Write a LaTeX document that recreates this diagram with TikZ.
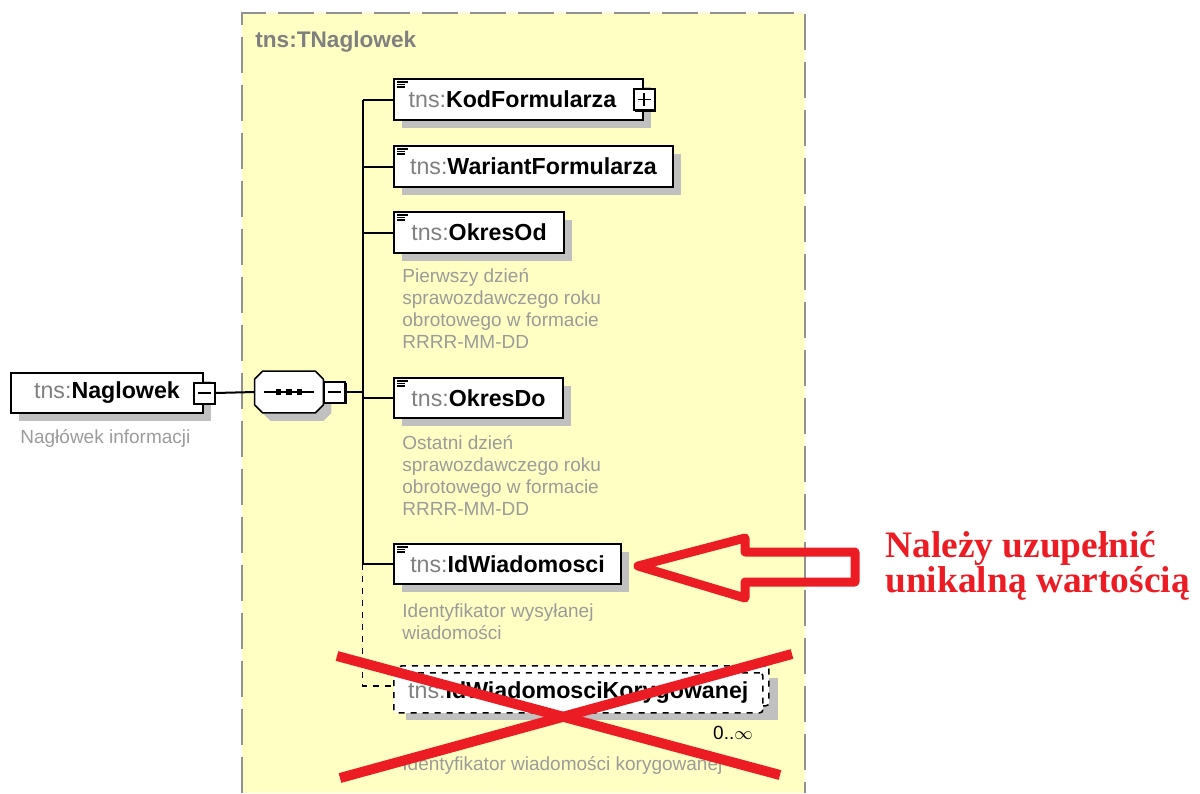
\documentclass[tikz,border=0pt]{standalone}
\usepackage{fontspec}
\setmainfont{Liberation Sans}
\newfontfamily\notefont{Liberation Serif}
\usepackage{xcolor}
\usetikzlibrary{positioning,shadows}

\definecolor{typeyellow}{RGB}{255,255,196}
\definecolor{typeborder}{RGB}{145,145,145}
\definecolor{shadowgray}{RGB}{192,192,192}
\definecolor{prefixgray}{RGB}{128,128,128}
\definecolor{descgray}{RGB}{155,155,155}
\definecolor{notered}{RGB}{236,28,36}

\newcommand{\tnsname}[1]{\textcolor{prefixgray}{tns:}\textbf{#1}}

\begin{document}
\begin{tikzpicture}[x=0.5pt,y=-0.5pt,
    elem/.style={draw=black, line width=1pt, fill=white, anchor=north west,
        minimum height=20pt, inner sep=0pt, font=\fontsize{11.6}{13}\selectfont,
        drop shadow={fill=shadowgray, opacity=1, shadow xshift=4pt, shadow yshift=-4pt}},
    multibox/.style={draw=black, line width=0.8pt, dashed, rounded corners=1.5pt,
        fill=white, anchor=north west, minimum height=18pt, inner sep=0pt,
        font=\fontsize{11.6}{13}\selectfont},
    pmbox/.style={draw=black, line width=1pt, fill=white, minimum size=10.5pt, inner sep=0pt,
        drop shadow={fill=black, opacity=1, shadow xshift=0.8pt, shadow yshift=-0.8pt}},
    minusbox/.style={pmbox, path picture={
        \draw[line width=0.8pt] ([xshift=2pt]path picture bounding box.west)
            -- ([xshift=-2pt]path picture bounding box.east);}},
    plusbox/.style={pmbox, path picture={
        \draw[line width=0.8pt] ([xshift=2pt]path picture bounding box.west)
            -- ([xshift=-2pt]path picture bounding box.east);
        \draw[line width=0.8pt] ([yshift=-2pt]path picture bounding box.north)
            -- ([yshift=2pt]path picture bounding box.south);}},
    seqbox/.style={minimum width=34pt, minimum height=20.5pt, inner sep=0pt},
    desc/.style={anchor=north west, align=left, inner sep=0pt, text=descgray,
        font=\fontsize{9.5}{11}\selectfont},
    link/.style={line width=1pt},
    cross/.style={notered, line width=5pt}
    ]
    \useasboundingbox (0,0) rectangle (1200,793);

    % complex type
    \fill[typeyellow] (242,13) rectangle (805,793);
    \draw[typeborder, line width=1pt, dash pattern=on 18pt off 6pt]
        (242,793) -- (242,13) -- (805,13) -- (805,793);
    \node[anchor=base west, inner sep=0pt, text=prefixgray,
        font=\fontsize{11.3}{13}\selectfont\bfseries] (ttl) at (255,47) {tns:TNaglowek};

    % root element
    \node[elem, minimum width=96pt] (nag) at (10,372) {\tnsname{Naglowek}};
    \node[minusbox] (nagmin) at (nag.east) {};
    \node[desc] (naginfo) at (20,429) {Nagłówek informacji};

    % sequence (octagon)
    \node[seqbox] (seq) at (289,392) {};
    \foreach \sh/\col/\ln in {4pt/shadowgray/none,0pt/white/black}
        \filldraw[fill=\col, draw=\ln, line width=0.8pt,
            transform canvas={shift={(\sh,-\sh)}}]
            ([xshift=4pt]seq.north west) -- ([xshift=-4pt]seq.north east)
            -- ([yshift=-4pt]seq.north east) -- ([yshift=4pt]seq.south east)
            -- ([xshift=-4pt]seq.south east) -- ([xshift=4pt]seq.south west)
            -- ([yshift=4pt]seq.south west) -- ([yshift=-4pt]seq.north west) -- cycle;
    \draw[line width=0.8pt] ([xshift=-12.5pt]seq.center) -- ([xshift=12.5pt]seq.center);
    \foreach \dx in {-5.25,0,5.25}
        \fill ([xshift=\dx pt]seq.center) +(-1.3pt,-1.3pt) rectangle +(1.3pt,1.3pt);
    \node[minusbox, anchor=west] (seqmin) at (seq.east) {};
    \coordinate (bus) at (362.5,392);

    % children
    \node[elem, minimum width=124.5pt, minimum height=20.5pt] (kod) at (393,78) {\tnsname{KodFormularza}\hspace*{6pt}};
    \node[plusbox] (kodplus) at (kod.east) {};
    \node[elem, minimum width=139.5pt, minimum height=20.5pt] (wariant) at (393,145) {\tnsname{WariantFormularza}};
    \node[elem, minimum width=85pt, minimum height=20.5pt] (od) at (393,211) {\tnsname{OkresOd}};
    \node[desc] (oddesc) at (402,268) {Pierwszy dzień\\sprawozdawczego roku\\obrotowego w formacie\\RRRR-MM-DD};
    \node[elem, minimum width=84.5pt] (do) at (393,377) {\tnsname{OkresDo}};
    \node[desc] (dodesc) at (402,435) {Ostatni dzień\\sprawozdawczego roku\\obrotowego w formacie\\RRRR-MM-DD};
    \node[elem, minimum width=113.5pt] (idw) at (393,543) {\tnsname{IdWiadomosci}};
    \node[desc] (idwdesc) at (402,603) {Identyfikator wysyłanej\\wiadomości};

    % optional, repeated child
    \fill[shadowgray] (406,678) rectangle (778,720);
    \node[multibox, minimum width=185pt, minimum height=20pt] (korback) at (398,665) {};
    \node[multibox, minimum width=184.5pt, minimum height=20pt] (kor) at (393,672) {\tnsname{IdWiadomosciKorygowanej}};
    \node[inner sep=0pt, font=\fontsize{9.5}{11}\selectfont] (korocc) at (733,733) {0..\(\infty\)};
    \node[desc] (kordesc) at (402,756) {Identyfikator wiadomości korygowanej};

    % connectors
    \draw[link] (nagmin.east) -- (seq.west);
    \draw[link] (seqmin.east) -- (seqmin.east -| bus);
    \draw[link] (kod.west -| bus) -- (idw.west -| bus);
    \foreach \e in {kod,wariant,od,do,idw}{
        \draw[link] (\e.west -| bus) -- (\e.west);
        \foreach \dy/\len in {4/11,6.5/8,9/8}
            \draw[line width=0.6pt] ([shift={(4,\dy)}]\e.north west) -- ++(\len,0);
    }
    \draw[line width=0.8pt, dashed] (idw.west -| bus) |- ([yshift=3.5pt]kor.west);

    % note
    \draw[notered, line width=4.5pt, line join=round]
        (638,566) -- (745,538) -- (745,552) -- (855,552) -- (855,582)
        -- (745,582) -- (745,598) -- cycle;
    \node[anchor=north west, inner sep=0pt, align=left, text=notered,
        font=\notefont\fontsize{18.7}{17.5}\selectfont\bfseries] (note) at (885,531)
        {Należy uzupełnić\\unikalną wartością};

    % crossed out
    \draw[cross] (337,656) -- (780,775);
    \draw[cross] (340,778) -- (792,654);
\end{tikzpicture}
\end{document}
